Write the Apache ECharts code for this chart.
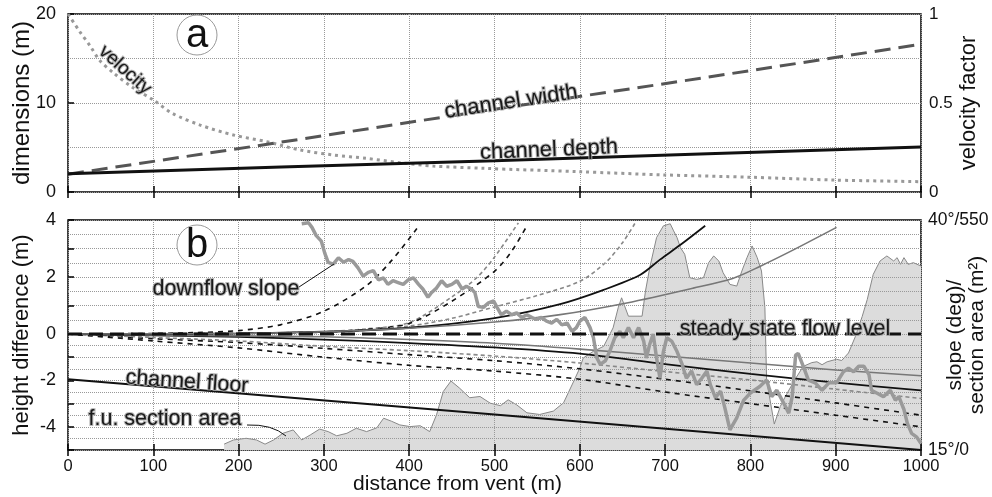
<!DOCTYPE html>
<html>
<head>
<meta charset="utf-8">
<script src="https://cdn.jsdelivr.net/npm/echarts@6/dist/echarts.min.js"></script>
<style>
  html, body { margin: 0; padding: 0; background: #fff; }
  #chart { width: 992px; height: 497px; }
</style>
</head>
<body>
<div id="chart"></div>
<script>
// panel a: [distance m, value]
var channelWidth = [[0, 2], [250, 5.6], [500, 9.3], [750, 12.9], [1000, 16.6]];
var channelDepth = [[0, 2.05], [250, 2.8], [500, 3.5], [750, 4.3], [1000, 5.05]];
var velocity = [[0, 1], [14, 0.9], [26, 0.82], [37, 0.74], [53, 0.67], [75, 0.59], [100, 0.517], [123, 0.44],
  [155, 0.376], [194, 0.32], [233, 0.283], [272, 0.236], [311, 0.208], [350, 0.189], [389, 0.165],
  [428, 0.146], [487, 0.133], [599, 0.114], [699, 0.096], [800, 0.083], [899, 0.067], [1000, 0.058]];

// panel b: height difference above flow level (m)
var upBlackDash1 = [[0, 0], [100, 0.02], [150, 0.05], [200, 0.12], [250, 0.33], [300, 0.8], [350, 1.7], [380, 2.6], [409, 3.7]];
var upGrayDash1 = [[0, 0], [200, 0.02], [300, 0.08], [350, 0.18], [400, 0.4], [450, 1.3], [480, 2.0], [500, 2.7], [528, 3.9]];
var upBlackDash2 = [[0, 0], [200, 0.02], [300, 0.07], [350, 0.16], [400, 0.37], [450, 1.15], [500, 2.2], [520, 2.9], [539, 3.85]];
var upGrayDash2 = [[0, 0], [300, 0.05], [400, 0.28], [450, 0.55], [500, 0.95], [550, 1.35], [600, 1.85], [630, 2.5], [650, 3.2], [665, 3.9]];
var upBlackSolid = [[0, 0], [200, 0.02], [300, 0.08], [400, 0.22], [500, 0.56], [577, 1.05], [628, 1.55], [671, 2.08], [694, 2.61], [718, 3.13], [747, 3.8]];
var upGraySolid = [[0, 0], [200, 0.02], [300, 0.08], [400, 0.2], [500, 0.42], [577, 0.68], [655, 1.09], [733, 1.61], [780, 1.96], [811, 2.37], [851, 2.96], [901, 3.74]];

// panel b: height difference below flow level (m)
var lowGraySolid = [[0, 0], [100, -0.04], [200, -0.08], [300, -0.12], [400, -0.24], [500, -0.4], [600, -0.65], [700, -0.95], [800, -1.25], [900, -1.55], [1000, -1.8]];
var lowBlackSolid = [[0, 0], [100, -0.06], [200, -0.12], [300, -0.24], [400, -0.39], [500, -0.58], [600, -0.85], [700, -1.3], [800, -1.72], [900, -2.1], [1000, -2.43]];
var lowGrayDash = [[0, 0], [100, -0.15], [200, -0.3], [300, -0.53], [400, -0.72], [500, -0.95], [600, -1.25], [700, -1.62], [800, -1.98], [900, -2.38], [1000, -2.78]];
var lowBlackDash1 = [[0, 0], [100, -0.2], [200, -0.37], [300, -0.62], [400, -0.89], [500, -1.15], [600, -1.5], [700, -1.95], [800, -2.45], [900, -2.97], [1000, -3.5]];
var lowBlackDash2 = [[0, 0], [100, -0.3], [200, -0.6], [300, -1.0], [400, -1.35], [500, -1.6], [600, -1.95], [700, -2.5], [800, -3.0], [900, -3.5], [1000, -4.0]];
var channelFloor = [[0, -1.95], [500, -3.47], [1000, -5]];
var flowLevel = [[0, 0], [1000, 0]];

// downflow slope (deg)
var slope = [[274, 39.6], [282, 39.7], [286, 39.2], [291, 38.3], [297, 37.7], [301, 36.4], [305, 35.4], [311, 35.2],
  [317, 35.9], [323, 35.4], [329, 35.7], [334, 35.5], [340, 34.8], [346, 33.9], [352, 34.3], [358, 34.5],
  [364, 33.5], [370, 33.7], [375, 33.0], [381, 33.4], [387, 33.2], [393, 33.0], [399, 33.5], [405, 33.7],
  [411, 33.0], [416, 32.5], [422, 31.6], [426, 32.1], [432, 32.6], [438, 33.4], [444, 32.8], [450, 33.0],
  [456, 33.4], [462, 32.5], [467, 32.8], [473, 32.5], [477, 32.1], [481, 30.6], [487, 30.5], [493, 31.0],
  [499, 31.2], [503, 30.5], [508, 29.7], [514, 30.1], [520, 29.7], [526, 29.9], [532, 29.4], [538, 29.7],
  [544, 29.4], [549, 29.2], [555, 29.4], [561, 29.0], [567, 28.8], [573, 29.2], [579, 28.6], [585, 28.8],
  [591, 27.9], [596, 28.3], [600, 29.0], [606, 29.4], [612, 28.3], [616, 27.2], [620, 25.0], [624, 24.3],
  [630, 24.7], [635, 25.7], [641, 27.2], [647, 27.9], [651, 27.2], [657, 28.3], [663, 27.2], [669, 28.3],
  [675, 26.8], [678, 25.0], [682, 26.5], [686, 27.6], [690, 25.0], [694, 22.8], [698, 25.7], [702, 27.2],
  [708, 26.8], [714, 25.7], [720, 24.3], [725, 22.8], [731, 23.6], [737, 22.1], [743, 22.8], [749, 23.6],
  [753, 22.1], [759, 20.7], [765, 21.4], [770, 19.6], [776, 17.2], [784, 18.5], [792, 20.4], [800, 21.2],
  [811, 21.9], [819, 22.6], [825, 20.8], [831, 21.5], [839, 20.1], [845, 19.0], [849, 20.8], [853, 25.3],
  [856, 25.5], [862, 24.1], [868, 22.6], [876, 22.3], [884, 21.5], [892, 22.3], [901, 22.3], [909, 23.5],
  [915, 23.9], [921, 23.5], [927, 24.1], [933, 24.1], [939, 23.2], [942, 21.5], [948, 21.2], [956, 20.8],
  [964, 21.5], [970, 20.4], [974, 20.8], [980, 19.4], [984, 17.9], [989, 16.8], [995, 16.4], [1000, 15.7]];

// f.u. section area (m2)
var sectionArea = [[183, 14], [194, 24], [209, 28], [221, 24], [231, 14], [241, 24], [252, 40], [264, 48],
  [274, 24], [284, 36], [295, 50], [305, 44], [315, 34], [327, 40], [338, 52], [350, 44], [362, 53],
  [370, 76], [379, 69], [389, 60], [401, 56], [413, 58], [424, 44], [432, 84], [440, 140], [449, 165],
  [459, 148], [471, 125], [483, 128], [495, 112], [507, 106], [516, 120], [526, 108], [538, 89], [553, 85],
  [569, 93], [581, 113], [593, 165], [600, 196], [604, 220], [616, 236], [628, 248], [639, 292], [645, 340],
  [649, 364], [657, 320], [673, 320], [677, 380], [682, 436], [690, 508], [698, 536], [706, 541], [710, 524],
  [714, 508], [718, 484], [723, 468], [729, 412], [737, 408], [745, 412], [751, 448], [757, 464], [763, 452],
  [768, 424], [776, 396], [784, 392], [790, 428], [796, 460], [802, 488], [808, 460], [813, 428], [817, 340],
  [819, 168], [823, 120], [828, 62], [835, 104], [841, 128], [852, 168], [862, 200], [872, 209], [878, 211],
  [884, 204], [890, 211], [901, 217], [907, 214], [915, 232], [923, 271], [931, 319], [937, 360], [944, 420],
  [952, 452], [960, 464], [968, 452], [972, 460], [976, 444], [980, 460], [985, 444], [991, 448], [1000, 440]];

var FONT = 'Liberation Sans, Arial, sans-serif';
var grid = { type: 'dotted', color: '#999', width: 1 };
var chart = echarts.init(document.getElementById('chart'));

function frameX(gridIndex, position, extra) {
  var ax = {
    type: 'value', gridIndex: gridIndex, position: position, min: 0, max: 1000, interval: 100,
    axisLine: { show: false }, axisTick: { inside: true, length: 6, lineStyle: { color: '#000', width: 1.5 } },
    axisLabel: { show: false }, splitLine: { show: false }, z: 3
  };
  return Object.assign(ax, extra || {});
}
function hiddenX(gridIndex) {
  return { type: 'value', gridIndex: gridIndex, min: 0, max: 1000, show: false };
}
function nameStyle(size, extra) {
  return Object.assign({ fontSize: size, color: '#111', fontFamily: FONT }, extra || {});
}
function lineSeries(data, color, width, type, x, y, smooth) {
  return {
    type: 'line', data: data, xAxisIndex: x, yAxisIndex: y, showSymbol: false,
    smooth: smooth === undefined ? 0.3 : smooth, clip: false, silent: true, z: 5,
    lineStyle: { color: color, width: width, type: type }
  };
}
var halo = { fontFamily: FONT, fill: '#1a1a1a', stroke: 'rgba(170,170,170,0.85)', lineWidth: 2 };
function label(text, x, y, size, rot) {
  return {
    type: 'text', x: x, y: y, rotation: (rot || 0) * Math.PI / 180, z: 50,
    style: Object.assign({ text: text, fontSize: size, align: 'center', verticalAlign: 'middle' }, halo)
  };
}
function letter(t, cx, cy) {
  return [
    { type: 'circle', shape: { cx: cx, cy: cy, r: 20 }, style: { fill: '#fff', stroke: '#999', lineWidth: 1 }, z: 50 },
    { type: 'text', x: cx, y: cy + 1, z: 51, style: { text: t, fontSize: 40, fontFamily: FONT, fill: '#111', align: 'center', verticalAlign: 'middle' } }
  ];
}
var gridBase = { left: 68, width: 853, containLabel: false, outerBoundsMode: 'none' };
var yTick = { inside: true, length: 6, lineStyle: { color: '#000', width: 1.5 } };

var option = {
  animation: false,
  textStyle: { fontFamily: FONT },
  grid: [
    Object.assign({ top: 14, height: 178, show: true, borderColor: '#000', borderWidth: 1.5 }, gridBase),
    Object.assign({ top: 220, height: 230, show: true, borderColor: '#000', borderWidth: 1.5 }, gridBase),
    Object.assign({ top: 220, height: 114, show: false }, gridBase),
    Object.assign({ top: 334, height: 116, show: false }, gridBase)
  ],
  xAxis: [
    frameX(0, 'bottom', { splitLine: { show: true, lineStyle: grid }, z: 2 }),
    frameX(0, 'top'),
    frameX(1, 'bottom', {
      splitLine: { show: true, lineStyle: grid }, z: 2,
      axisLabel: { show: true, fontSize: 16.5, color: '#111', margin: 8, fontFamily: FONT,
        formatter: function (v) { return String(v); } },
      name: 'distance from vent (m)', nameLocation: 'middle', nameGap: 24, nameMoveOverlap: false,
      nameTextStyle: nameStyle(21, { padding: [0, 74, 0, 0] })
    }),
    frameX(1, 'top'),
    hiddenX(2),
    hiddenX(3)
  ],
  yAxis: [
    { type: 'value', gridIndex: 0, position: 'left', min: 0, max: 20, interval: 10, z: 2,
      axisLine: { show: false }, axisTick: yTick,
      axisLabel: { fontSize: 18, color: '#111', margin: 12, fontFamily: FONT },
      splitLine: { show: true, lineStyle: grid },
      minorTick: { show: false, splitNumber: 2 }, minorSplitLine: { show: true, lineStyle: grid },
      name: 'dimensions (m)', nameLocation: 'middle', nameGap: 34, nameRotate: 90, nameMoveOverlap: false,
      nameTextStyle: nameStyle(24) },
    { type: 'value', gridIndex: 0, position: 'right', min: 0, max: 1, interval: 0.5,
      axisLine: { show: false }, axisTick: { show: false }, splitLine: { show: false },
      axisLabel: { fontSize: 17, color: '#111', margin: 8, fontFamily: FONT },
      name: 'velocity factor', nameLocation: 'middle', nameGap: 37, nameRotate: 90, nameMoveOverlap: false,
      nameTextStyle: nameStyle(22) },
    { type: 'value', gridIndex: 1, position: 'right', min: 0, max: 550, interval: 550,
      axisLine: { show: false }, axisTick: { show: false }, splitLine: { show: false },
      axisLabel: { fontSize: 17.5, color: '#111', margin: 7, fontFamily: FONT,
        formatter: function (v) { return v === 0 ? '15°/0' : '40°/550'; } },
      name: 'slope (deg)/\nsection area (m²)', nameLocation: 'middle', nameGap: 23, nameRotate: 90, nameMoveOverlap: false,
      nameTextStyle: nameStyle(21, { lineHeight: 22 }) },
    { type: 'value', gridIndex: 1, min: 15, max: 40, show: false },
    { type: 'value', gridIndex: 1, position: 'left', min: 0, max: 1,
      axisLine: { show: false }, axisTick: { show: false }, axisLabel: { show: false }, splitLine: { show: false },
      name: 'height difference (m)', nameLocation: 'middle', nameGap: 35, nameRotate: 90, nameMoveOverlap: false,
      nameTextStyle: nameStyle(22) },
    { type: 'value', gridIndex: 2, position: 'left', min: 0, max: 4, interval: 1, z: 2,
      axisLine: { show: false }, axisTick: yTick,
      axisLabel: { fontSize: 18, color: '#111', margin: 12, fontFamily: FONT,
        formatter: function (v) { return v % 2 === 0 ? String(v) : ''; } },
      splitLine: { show: true, lineStyle: grid },
      minorTick: { show: false, splitNumber: 2 }, minorSplitLine: { show: true, lineStyle: grid } },
    { type: 'value', gridIndex: 3, position: 'left', min: -5, max: 0, interval: 1, z: 2,
      axisLine: { show: false }, axisTick: yTick,
      axisLabel: { fontSize: 18, color: '#111', margin: 12, fontFamily: FONT,
        formatter: function (v) { return (v === -2 || v === -4) ? String(v) : ''; } },
      splitLine: { show: true, lineStyle: grid },
      minorTick: { show: false, splitNumber: 2 }, minorSplitLine: { show: true, lineStyle: grid } }
  ],
  series: [
    lineSeries(velocity, '#999', 3, [3, 4], 0, 1),
    lineSeries(channelWidth, '#555', 3, [16, 8], 0, 0, false),
    lineSeries(channelDepth, '#111', 3, 'solid', 0, 0, false),

    { type: 'line', data: sectionArea, xAxisIndex: 2, yAxisIndex: 2, showSymbol: false, silent: true, z: 1,
      lineStyle: { color: '#888', width: 1 }, areaStyle: { color: '#dcdcdc', opacity: 1 } },

    lineSeries(channelFloor, '#111', 2.2, 'solid', 5, 6, false),
    lineSeries(lowBlackDash2, '#111', 1.6, [5, 5], 5, 6),
    lineSeries(lowBlackDash1, '#111', 1.6, [5, 5], 5, 6),
    lineSeries(lowGrayDash, '#888', 1.6, [4, 3], 5, 6),
    lineSeries(lowBlackSolid, '#111', 1.8, 'solid', 5, 6),
    lineSeries(lowGraySolid, '#777', 1.6, 'solid', 5, 6),

    lineSeries(upBlackDash1, '#111', 1.6, [5, 5], 4, 5),
    lineSeries(upGrayDash1, '#888', 1.6, [4, 3], 4, 5),
    lineSeries(upBlackDash2, '#111', 1.6, [5, 5], 4, 5),
    lineSeries(upGrayDash2, '#888', 1.6, [4, 3], 4, 5),
    lineSeries(upBlackSolid, '#111', 1.8, 'solid', 4, 5),
    lineSeries(upGraySolid, '#777', 1.6, 'solid', 4, 5),

    Object.assign(lineSeries(slope, '#9a9a9a', 3.5, 'solid', 2, 3, false), { z: 6 }),
    Object.assign(lineSeries(flowLevel, '#111', 3, [14, 7], 4, 5, false), { z: 7 })
  ],
  graphic: [].concat(
    letter('a', 197, 35),
    letter('b', 197, 245),
    [
      label('velocity', 125, 70, 19, -42),
      label('channel width', 511, 102, 22, 8.6),
      label('channel depth', 549, 150, 22, 2.5),
      label('downflow slope', 226, 289, 21.5, 0),
      label('steady state flow level', 785, 329, 21.5, 0),
      label('channel floor', 187, 382, 21.5, -4),
      label('f.u. section area', 165, 419, 21.5, 0),
      { type: 'line', z: 40, shape: { x1: 299, y1: 287, x2: 334, y2: 264 }, style: { stroke: '#111', lineWidth: 1 } },
      { type: 'bezierCurve', z: 40, shape: { x1: 247, y1: 425, cpx1: 272, cpy1: 424, x2: 286, y2: 436 },
        style: { stroke: '#111', lineWidth: 1, fill: null } }
    ]
  )
};
chart.setOption(option);
</script>
</body>
</html>
